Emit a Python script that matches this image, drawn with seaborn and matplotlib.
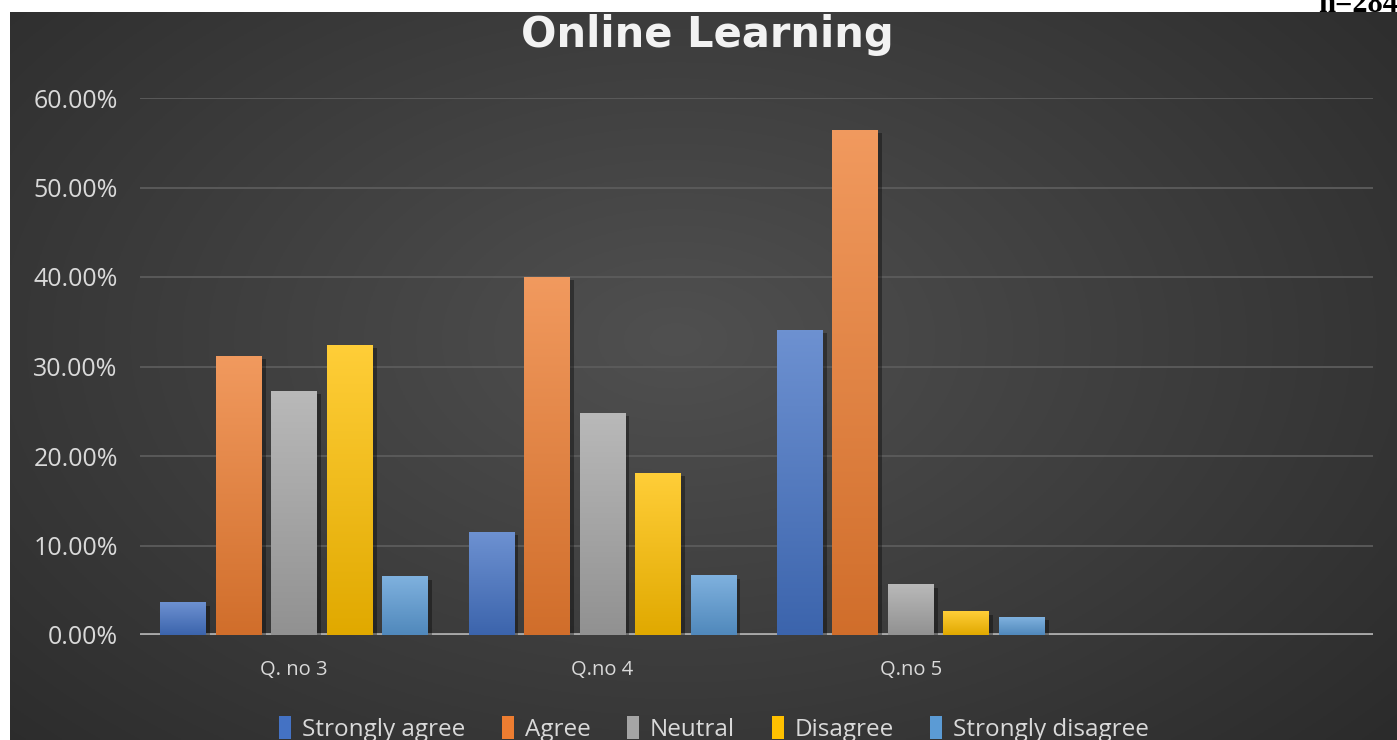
import numpy as np
import pandas as pd
import matplotlib
matplotlib.use("Agg")
import matplotlib.pyplot as plt
import seaborn as sns
import matplotlib.patheffects as pe
from matplotlib.patches import Rectangle
from matplotlib.colors import to_rgb
from matplotlib.ticker import FuncFormatter

# ---- data (percent) ----
questions = ["Q. no 3", "Q.no 4", "Q.no 5"]
responses = ["Strongly agree", "Agree", "Neutral", "Disagree", "Strongly disagree"]
strongly_agree = [3.6, 11.5, 34.0]
agree = [31.1, 40.0, 56.4]
neutral = [27.2, 24.8, 5.6]
disagree = [32.4, 18.1, 2.6]
strongly_disagree = [6.5, 6.6, 2.0]
y_ticks = [0, 10, 20, 30, 40, 50, 60]
colors = ["#4472C4", "#ED7D31", "#A5A5A5", "#FFC000", "#5B9BD5"]

series = [strongly_agree, agree, neutral, disagree, strongly_disagree]
rows = []
for r, vals in zip(responses, series):
    for q, v in zip(questions, vals):
        rows.append({"question": q, "response": r, "value": v})
df = pd.DataFrame(rows)

sns.set_theme(style="dark")
plt.rcParams["font.family"] = ["Open Sans", "DejaVu Sans"]

W, H = 1397, 740
fig = plt.figure(figsize=(W / 100, H / 100), dpi=100)
fig.patch.set_facecolor("white")

# background panel with radial gradient
bg = fig.add_axes([10 / W, 0, (W - 10) / W, (H - 12) / H])
yy, xx = np.mgrid[0:1:300j, 0:1:600j]
r = np.sqrt(((xx - 0.48) / 0.75) ** 2 + ((yy - 0.55) / 0.9) ** 2)
r = np.clip(r, 0, 1)
c_in = np.array(to_rgb("#505050"))
c_out = np.array(to_rgb("#282828"))
img = c_in[None, None, :] * (1 - r[..., None]) + c_out[None, None, :] * r[..., None]
bg.imshow(img, extent=[0, 1, 0, 1], aspect="auto", origin="lower")
bg.axis("off")

# main axes
ax = fig.add_axes([140 / W, 105 / H, 1233 / W, 537 / H])
ax.set_facecolor("none")
sns.barplot(data=df, x="question", y="value", hue="response", order=questions,
            hue_order=responses, palette=colors, width=0.9, gap=0.18,
            saturation=1, ax=ax, legend=False, zorder=3,
            linewidth=0, edgecolor="none")

ax.set_xlim(-0.5, 3.5)
ax.set_ylim(0, 60)
ax.set_yticks(y_ticks)
ax.yaxis.set_major_formatter(FuncFormatter(lambda v, p: f"{v:.2f}%"))
ax.set_xticks(range(len(questions)))
ax.set_xticklabels(questions)
ax.set_xlabel("")
ax.set_ylabel("")
for s in ax.spines.values():
    s.set_visible(False)
ax.yaxis.grid(True, color="#5c5c5c", lw=1.3)
ax.xaxis.grid(False)
ax.set_axisbelow(True)
ax.axhline(0, color="#a8a8a8", lw=3.5, zorder=2.5)
ax.tick_params(axis="both", length=0, colors="#d9d9d9", labelcolor="#d9d9d9")
ax.tick_params(axis="y", labelsize=18, pad=16)
ax.tick_params(axis="x", labelsize=14.5, pad=18)

# gradient shading + shadow on bars
bars = [p for p in ax.patches if isinstance(p, Rectangle) and p.get_height() > 0]
for p in bars:
    x0, y0, w, h = p.get_x(), p.get_y(), p.get_width(), p.get_height()
    base = np.array(p.get_facecolor()[:3])
    top = base + (1 - base) * 0.22
    bot = base * 0.88
    t = np.linspace(0, 1, 100)[:, None]
    grad = (bot[None, :] * (1 - t) + top[None, :] * t)[:, None, :]
    ax.imshow(grad, extent=[x0, x0 + w, y0, y0 + h], aspect="auto",
              origin="lower", zorder=3.2, interpolation="bilinear")
    p.set_path_effects([pe.SimplePatchShadow(offset=(3, -2), shadow_rgbFace="black", alpha=0.35),
                        pe.Normal()])
ax.set_xlim(-0.5, 3.5)
ax.set_ylim(0, 60)
ax.set_aspect("auto")

# title
fig.text(707 / W, 1 - 35 / H, "Online Learning", ha="center", va="center",
         fontsize=30, fontweight="bold", color="#f2f2f2", family="DejaVu Sans")

# clipped note at top right
fig.text(1318 / W, 1 - 12 / H, "n=284", ha="left", va="baseline", fontsize=22,
         fontweight="bold", color="black", family="Liberation Serif")

# legend
handles = [Rectangle((0, 0), 1, 1, facecolor=c, edgecolor="none") for c in colors]
fig.legend(handles, responses, loc="center", bbox_to_anchor=(714 / W, 1 - 729 / H),
           ncol=5, frameon=False, handlelength=0.5, handleheight=1.1,
           handletextpad=0.45, columnspacing=1.5, labelcolor="#d9d9d9",
           prop={"family": ["Open Sans", "DejaVu Sans"], "size": 17.5})

fig.savefig("out.png", dpi=100, facecolor=fig.get_facecolor())
